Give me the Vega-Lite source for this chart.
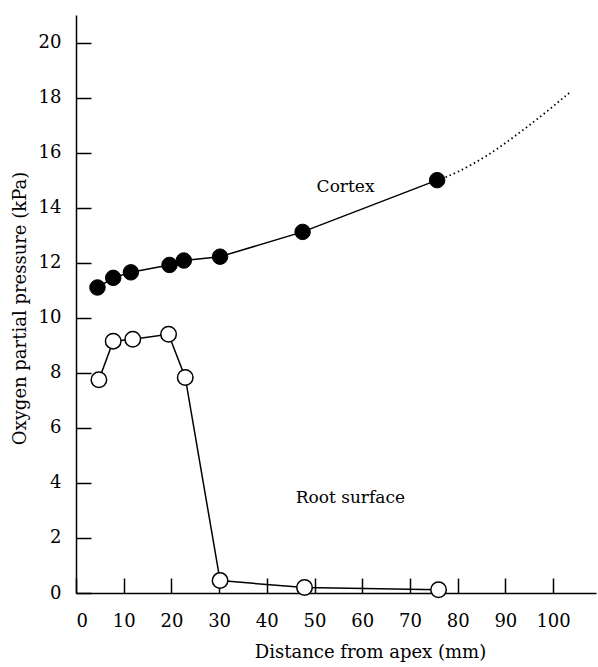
{
  "$schema": "https://vega.github.io/schema/vega-lite/v6.json",
  "width": 520,
  "height": 578,
  "autosize": {"type": "none"},
  "padding": {"left": 76, "top": 15, "right": 2, "bottom": 74},
  "background": "white",
  "config": {
    "view": {"stroke": null},
    "font": "DejaVu Serif",
    "axis": {
      "grid": false,
      "domainColor": "black",
      "domainWidth": 1.5,
      "tickColor": "black",
      "tickWidth": 1.5,
      "tickSize": -15,
      "labelColor": "black",
      "labelFont": "DejaVu Serif",
      "labelFontSize": 18,
      "titleFont": "DejaVu Serif",
      "titleFontSize": 18,
      "titleFontWeight": "normal",
      "titleColor": "black"
    }
  },
  "datasets": {
    "cortexData": [
      {"d": 4.5, "p": 11.1}, {"d": 7.8, "p": 11.45}, {"d": 11.5, "p": 11.65},
      {"d": 19.6, "p": 11.92}, {"d": 22.6, "p": 12.08}, {"d": 30.2, "p": 12.22},
      {"d": 47.5, "p": 13.12}, {"d": 75.7, "p": 15.0}
    ],
    "surfaceData": [
      {"d": 4.8, "p": 7.75}, {"d": 7.8, "p": 9.15}, {"d": 11.9, "p": 9.22},
      {"d": 19.4, "p": 9.4}, {"d": 22.9, "p": 7.83}, {"d": 30.2, "p": 0.45},
      {"d": 47.9, "p": 0.2}, {"d": 76.0, "p": 0.12}
    ],
    "extData": [
      {"d": 75.7, "p": 15.0}, {"d": 80.0, "p": 15.3}, {"d": 86.0, "p": 15.88},
      {"d": 92.0, "p": 16.6}, {"d": 98.0, "p": 17.4}, {"d": 103.6, "p": 18.2}
    ],
    "labelData": [
      {"d": 56.5, "p": 14.75, "t": "Cortex"},
      {"d": 57.5, "p": 3.45, "t": "Root surface"}
    ]
  },
  "encoding": {
    "x": {
      "field": "d", "type": "quantitative",
      "scale": {"domain": [0, 109], "nice": false, "zero": false},
      "axis": {
        "title": "Distance from apex (mm)",
        "values": [0, 10, 20, 30, 40, 50, 60, 70, 80, 90, 100],
        "labelPadding": 34,
        "labelBaseline": "top",
        "titleX": 294,
        "titleY": 64,
        "titleAlign": "center",
        "titleBaseline": "alphabetic"
      }
    },
    "y": {
      "field": "p", "type": "quantitative",
      "scale": {"domain": [0, 21], "nice": false, "zero": false},
      "axis": {
        "title": "Oxygen partial pressure (kPa)",
        "values": [0, 2, 4, 6, 8, 10, 12, 14, 16, 18, 20],
        "labelPadding": 30,
        "titleX": -56,
        "titleY": 293,
        "titleAngle": -90,
        "titleAlign": "center",
        "titleBaseline": "middle"
      }
    }
  },
  "layer": [
    {"data": {"name": "surfaceData"}, "mark": {"type": "line", "color": "black", "strokeWidth": 1.5}},
    {"data": {"name": "cortexData"}, "mark": {"type": "line", "color": "black", "strokeWidth": 1.5}},
    {"data": {"name": "extData"}, "mark": {"type": "line", "color": "black", "strokeWidth": 1.8, "strokeDash": [1.5, 3], "interpolate": "natural"}},
    {"data": {"name": "surfaceData"}, "mark": {"type": "point", "shape": "circle", "filled": true, "fill": "white", "stroke": "black", "strokeWidth": 1.5, "size": 240, "opacity": 1}},
    {"data": {"name": "cortexData"}, "mark": {"type": "point", "shape": "circle", "filled": true, "fill": "black", "stroke": "black", "strokeWidth": 1, "size": 240, "opacity": 1}},
    {"data": {"name": "labelData"}, "mark": {"type": "text", "font": "DejaVu Serif", "fontSize": 17, "color": "black", "align": "center", "baseline": "middle"}, "encoding": {"text": {"field": "t"}}}
  ]
}
